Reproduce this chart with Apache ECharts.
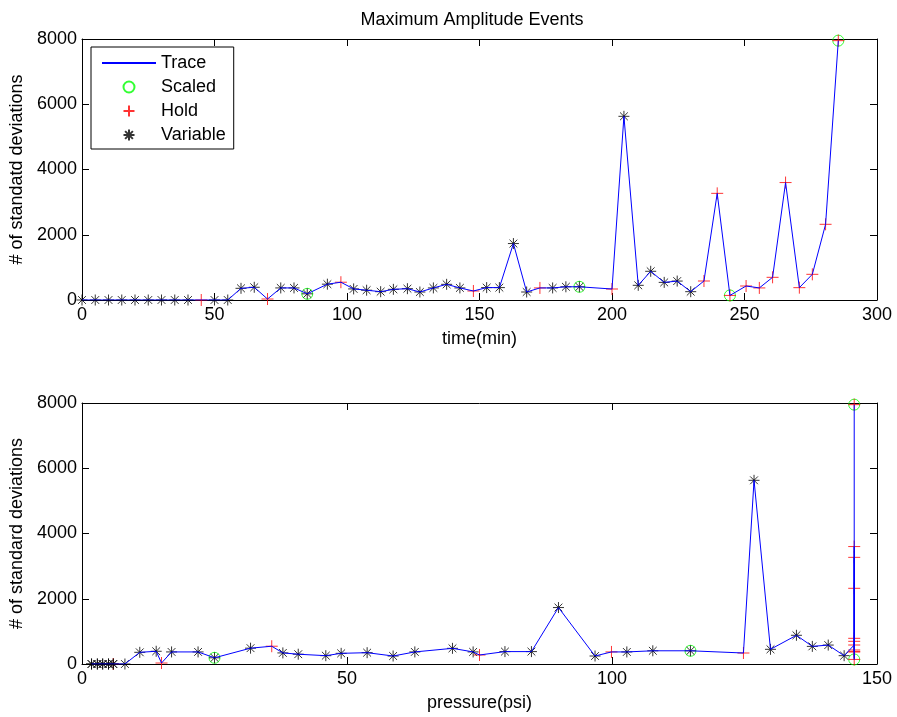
<!DOCTYPE html>
<html>
<head>
<meta charset="utf-8">
<script src="https://cdn.jsdelivr.net/npm/echarts@6/dist/echarts.min.js"></script>
<style>
html,body{margin:0;padding:0;background:#fff;}
#chart{width:897px;height:717px;}
</style>
</head>
<body>
<div id="chart"></div>
<script>
// ---- data ----
const timeMin = [0,5,10,15,20,25,30,35,40,45,50,55,60,65,70,75,80,85,92.6,97.7,102.5,107.4,112.7,117.5,122.8,127.5,132.6,137.6,142.6,147.7,152.7,157.5,162.8,167.8,172.8,177.6,182.6,187.7,200,204.5,209.9,214.6,219.7,224.6,229.7,234.7,239.7,244.5,250.6,255.6,260.6,265.5,270.7,275.6,280.6,285.4];
const pressurePsi = [1.8,1.8,2.9,2.9,3.9,3.9,5.0,5.0,5.9,5.9,5.9,8.1,10.9,14.0,15.0,16.9,21.9,25.0,31.8,35.8,37.9,40.8,46.0,48.9,53.8,58.7,62.8,69.9,73.8,75.0,79.8,84.8,89.9,96.8,99.9,102.8,107.7,114.8,124.8,126.8,129.9,134.8,137.8,140.8,143.8,145.7,145.7,145.7,145.7,145.7,145.7,145.7,145.7,145.7,145.7,145.7];
const stdDevs = [0,0,0,0,0,0,0,0,0,0,0,0,358,390,30,370,370,190,485,545,340,300,255,327,347,245,370,480,370,276,380,380,1730,245,370,370,405,405,337,5630,450,880,540,580,255,582,3269,140,429,370,695,3600,378,787,2320,7950];
// event type: V = Variable, H = Hold, S = Scaled (SV / SH = both)
const eventType = ['V','V','V','V','V','V','V','V','V','H','V','V','V','V','H','V','V','SV','V','H','V','V','V','V','V','V','V','V','V','H','V','V','V','V','H','V','V','SV','H','V','V','V','V','V','V','H','H','SH','H','H','H','H','H','H','H','SH'];
const timeTicks = {min:0, max:300, interval:50};
const pressureTicks = {min:0, max:150, interval:50};
const devTicks = {min:0, max:8000, interval:2000};

// ---- build series data ----
function pairs(xs, filterChar){
  const out = [];
  for (let i = 0; i < xs.length; i++) {
    if (!filterChar || eventType[i].indexOf(filterChar) >= 0) out.push([xs[i], stdDevs[i]]);
  }
  return out;
}

const FONT = '"Liberation Sans", Arial, sans-serif';
const plusPath = 'path://M0,5L10,5M5,0L5,10';
const starPath = 'path://M0,5L10,5M5,0L5,10M1.46,1.46L8.54,8.54M1.46,8.54L8.54,1.46';

function makeSeries(xs, xi, yi){
  return [
    {name:'Trace', type:'line', xAxisIndex:xi, yAxisIndex:yi, data:pairs(xs), symbol:'none',
     lineStyle:{color:'#0000ff', width:1}, itemStyle:{color:'#0000ff'}, silent:true, animation:false},
    {name:'Scaled', type:'scatter', xAxisIndex:xi, yAxisIndex:yi, data:pairs(xs,'S'), symbol:'circle', symbolSize:11,
     itemStyle:{color:'rgba(0,0,0,0)', borderColor:'#00ff00', borderWidth:1}, silent:true, animation:false},
    {name:'Hold', type:'scatter', xAxisIndex:xi, yAxisIndex:yi, data:pairs(xs,'H'), symbol:plusPath, symbolSize:12,
     itemStyle:{color:'rgba(0,0,0,0)', borderColor:'#ff0000', borderWidth:1}, silent:true, animation:false},
    {name:'Variable', type:'scatter', xAxisIndex:xi, yAxisIndex:yi, data:pairs(xs,'V'), symbol:starPath, symbolSize:11,
     itemStyle:{color:'rgba(0,0,0,0)', borderColor:'#000000', borderWidth:1}, silent:true, animation:false}
  ];
}

function plain(v){ return String(v); }

function xAx(grid, ticks, name, top){
  return {
    type:'value', gridIndex:grid, position: top ? 'top' : 'bottom',
    min:ticks.min, max:ticks.max, interval:ticks.interval,
    name: top ? '' : name, nameLocation:'middle', nameGap:30,
    nameTextStyle:{color:'#000', fontSize:18, fontFamily:FONT},
    axisLine:{show:true, onZero:false, lineStyle:{color:'#000', width:1}},
    axisTick:{show:true, inside:true, length:7, lineStyle:{color:'#000'}},
    axisLabel:{show:!top, color:'#000', fontSize:18, fontFamily:FONT, margin:6, formatter:plain},
    splitLine:{show:false}
  };
}
function yAx(grid, name, right){
  return {
    type:'value', gridIndex:grid, position: right ? 'right' : 'left',
    min:devTicks.min, max:devTicks.max, interval:devTicks.interval,
    name: right ? '' : name, nameLocation:'middle', nameGap:43,
    nameTextStyle:{color:'#000', fontSize:18, fontFamily:FONT},
    axisLine:{show:true, onZero:false, lineStyle:{color:'#000', width:1}},
    axisTick:{show:true, inside:true, length:7, lineStyle:{color:'#000'}},
    axisLabel:{show:!right, color:'#000', fontSize:18, fontFamily:FONT, margin:5, formatter:plain},
    splitLine:{show:false}
  };
}

const chart = echarts.init(document.getElementById('chart'), null, {renderer:'canvas'});
chart.setOption({
  backgroundColor:'#ffffff',
  animation:false,
  textStyle:{fontFamily:FONT},
  graphic:[{type:'text', x:472, y:20, style:{text:'Maximum Amplitude Events', fill:'#000', font:'18px ' + FONT, textAlign:'center', textVerticalAlign:'middle'}}],
  legend:{
    data:[{name:'Trace', itemStyle:{opacity:0}}, 'Scaled', 'Hold', 'Variable'],
    orient:'vertical', left:91, top:47,
    padding:[7,8,5,10], itemGap:6, itemWidth:54, itemHeight:11,
    backgroundColor:'#fff', borderColor:'#000', borderWidth:1,
    textStyle:{color:'#000', fontSize:18, fontFamily:FONT, lineHeight:18},
    selectedMode:false
  },
  grid:[
    {left:82, top:39, width:795, height:261},
    {left:82, top:403, width:795, height:261}
  ],
  xAxis:[xAx(0,timeTicks,'time(min)',false), xAx(0,timeTicks,'',true), xAx(1,pressureTicks,'pressure(psi)',false), xAx(1,pressureTicks,'',true)],
  yAxis:[yAx(0,'# of standatd deviations',false), yAx(0,'',true), yAx(1,'# of standard deviations',false), yAx(1,'',true)],
  series:[].concat(makeSeries(timeMin,0,0), makeSeries(pressurePsi,2,2))
});
</script>
</body>
</html>
